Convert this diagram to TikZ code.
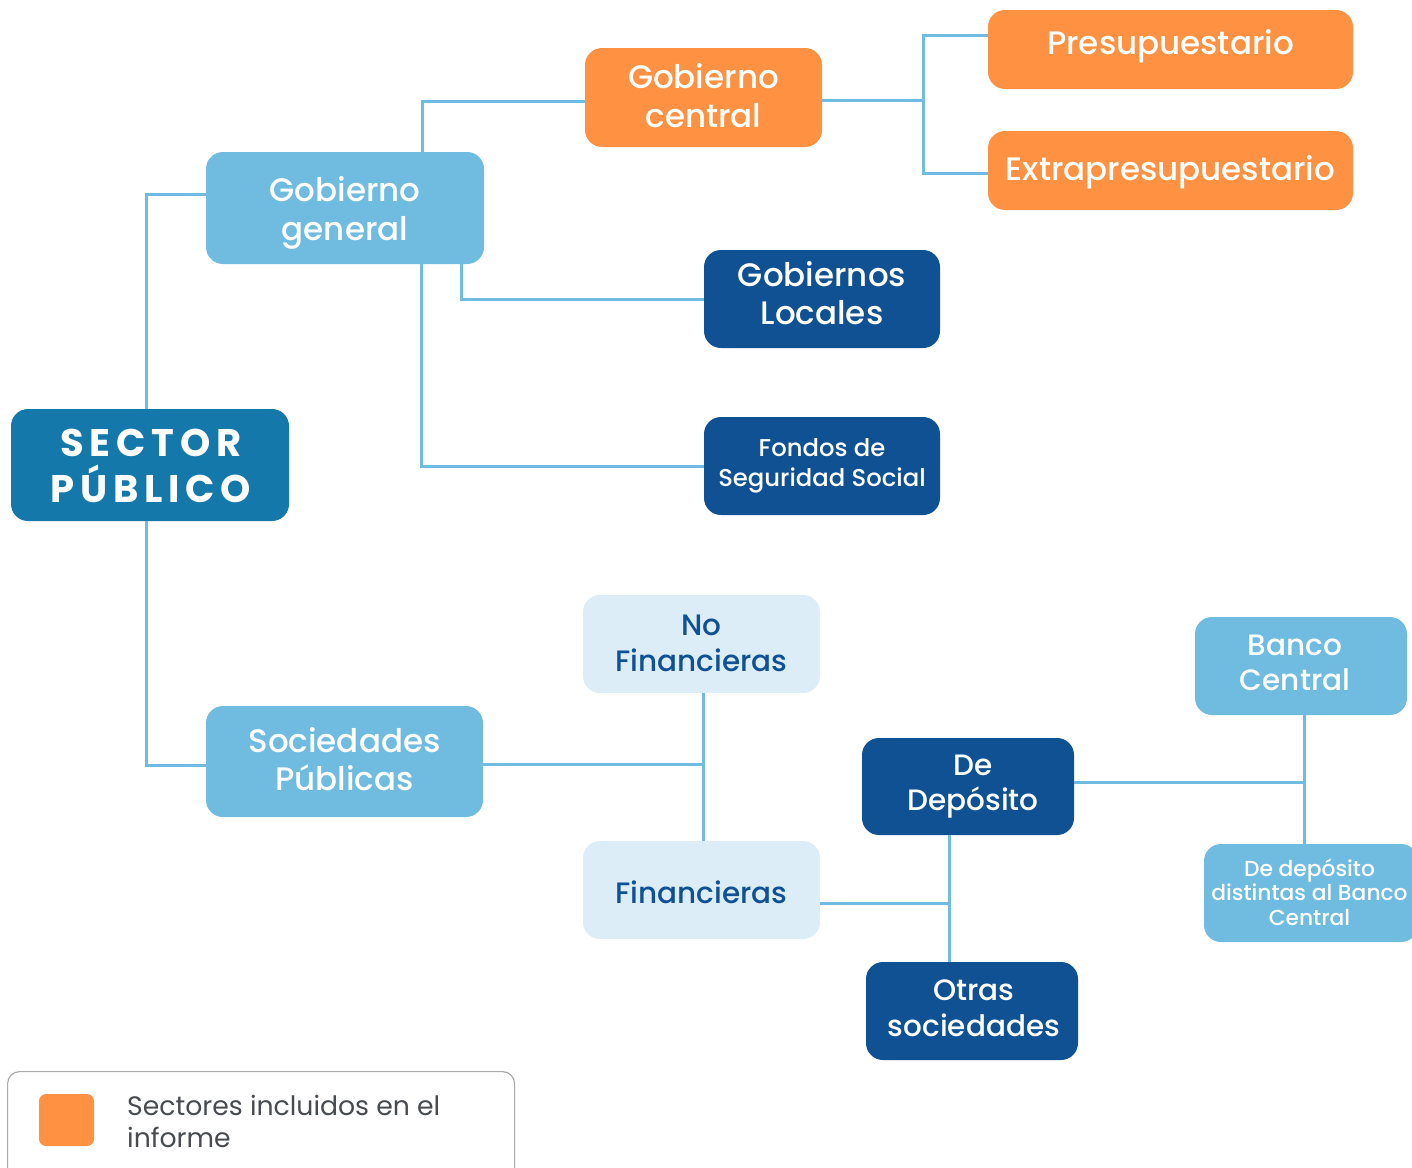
\documentclass[tikz,border=0pt]{standalone}
\usepackage{fontspec}
\setmainfont{Poppins}[UprightFont={* Medium},BoldFont={* Bold}]
\newfontfamily\legendfont{Poppins}
\definecolor{spblue}{HTML}{1478AA}
\definecolor{lblue}{HTML}{6FBCE0}
\definecolor{dblue}{HTML}{0F5193}
\definecolor{pale}{HTML}{DCEDF7}
\definecolor{orng}{HTML}{FF9142}
\definecolor{legtext}{HTML}{474A4F}
\definecolor{legborder}{HTML}{AAAAAA}
% text block: [dx]{raise of first baseline above centre}{lines}
\newcommand\tx[3][0pt]{\raisebox{#2}[0pt][0pt]{\makebox[0pt]{\hspace*{#1}\hspace*{#1}\vtop{\let\\\cr\halign{\hfil##\hfil\cr#3\crcr}}}}}
\tikzset{
  box/.style={rounded corners=17pt, align=center, inner sep=0pt, text=white},
  orangebox/.style={box, fill=orng},
  lightbox/.style={box, fill=lblue},
  darkbox/.style={box, fill=dblue},
  palebox/.style={box, fill=pale, text=dblue},
  conn/.style={draw=lblue, line width=3pt},
  big/.style={font=\fontsize{32.5}{38.5}\selectfont},
  mid/.style={font=\fontsize{29.5}{35.3}\selectfont},
}
\begin{document}
\begin{tikzpicture}[x=1pt,y=-1pt]
\useasboundingbox (0,0) rectangle (1412,1167);
% nodes
\node[box, fill=spblue, minimum width=278pt, minimum height=112pt,
  font=\fontsize{38.5}{45.7}\bfseries\addfontfeature{LetterSpace=15}\selectfont] (sp) at (150,465) {\tx[1pt]{8.3pt}{SECTOR\\PÚBLICO}};
\node[lightbox, big, minimum width=278pt, minimum height=112pt] (gg) at (345,208) {\tx{6.3pt}{Gobierno\\general}};
\node[orangebox, big, minimum width=237pt, minimum height=99pt] (gc) at (703.5,97.5) {\tx{9pt}{Gobierno\\central}};
\node[orangebox, big, minimum width=365pt, minimum height=79pt] (pre) at (1170.5,49.5) {\tx{-4.8pt}{Presupuestario}};
\node[orangebox, big, minimum width=365pt, minimum height=79pt] (ext) at (1170.5,170.5) {\tx{-9.5pt}{Extrapresupuestario}};
\node[darkbox, big, minimum width=236pt, minimum height=98pt] (gl) at (822,299) {\tx{12.8pt}{Gobiernos\\Locales}};
\node[darkbox, font=\fontsize{24.3}{29.3}\selectfont, minimum width=236pt, minimum height=98pt] (fss) at (822,466) {\tx{9.3pt}{Fondos de\\Seguridad Social}};
\node[lightbox, big, minimum width=277pt, minimum height=111pt] (soc) at (344.5,761.5) {\tx{9.3pt}{Sociedades\\Públicas}};
\node[palebox, mid, minimum width=237pt, minimum height=98pt] (nf) at (701.5,644) {\tx{8.3pt}{No\\Financieras}};
\node[palebox, mid, minimum width=237pt, minimum height=98pt] (fin) at (701.5,890) {\tx{-13.3pt}{Financieras}};
\node[darkbox, mid, minimum width=212pt, minimum height=97pt] (dd) at (968,786.5) {\tx[5pt]{11.5pt}{De\\Depósito}};
\node[darkbox, mid, minimum width=212pt, minimum height=98pt] (os) at (972,1011) {\tx[2pt]{10.3pt}{Otras\\sociedades}};
\node[lightbox, mid, minimum width=212pt, minimum height=98pt] (bc) at (1301,666) {\tx[-6pt]{11pt}{Banco\\Central}};
\node[lightbox, font=\fontsize{21.8}{24.5}\selectfont, minimum width=214pt, minimum height=98pt] (ddd) at (1311,893) {\tx[-1.5pt]{17pt}{De depósito\\distintas al Banco\\Central}};
% connectors
\draw[conn] ([xshift=-4pt]sp.north) |- ([yshift=14pt]gg.west);
\draw[conn] ([xshift=-4pt]sp.south) |- ([yshift=-3.5pt]soc.west);
\draw[conn] ([xshift=77pt]gg.north) |- ([yshift=-3.5pt]gc.west);
\coordinate (j1) at (923,100);
\draw[conn] ([yshift=-2.5pt]gc.east) -- (j1);
\draw[conn] ([yshift=14.5pt]pre.west) -| (j1) |- ([yshift=-2.5pt]ext.west);
\draw[conn] ([xshift=116pt]gg.south) |- (gl.west);
\draw[conn] ([xshift=76pt]gg.south) |- (fss.west);
\coordinate (j4) at (703,764);
\draw[conn] (nf.south -| j4) -- (fin.north -| j4);
\draw[conn] ([yshift=-2.5pt]soc.east) -- (j4);
\coordinate (j2) at (949,903);
\draw[conn] (dd.south -| j2) -- (os.north -| j2);
\draw[conn] ([yshift=-13pt]fin.east) -- (j2);
\coordinate (j3) at (1304,782);
\draw[conn] (bc.south -| j3) -- (ddd.north -| j3);
\draw[conn] ([yshift=4.5pt]dd.east) -- (j3);
% legend
\node[draw=legborder, line width=1.2pt, rounded corners=12pt, minimum width=507pt, minimum height=110pt, anchor=north west] (leg) at (7,1071) {};
\node[fill=orng, rounded corners=7pt, minimum width=55pt, minimum height=52pt, inner sep=0pt] (legsq) at (66.5,1120) {};
\node[anchor=west, align=left, text=legtext, inner sep=0pt, font=\legendfont\fontsize{26.7}{32}\selectfont] (legtxt) at (127,1121) {Sectores incluidos en el\\informe};
\end{tikzpicture}
\end{document}
